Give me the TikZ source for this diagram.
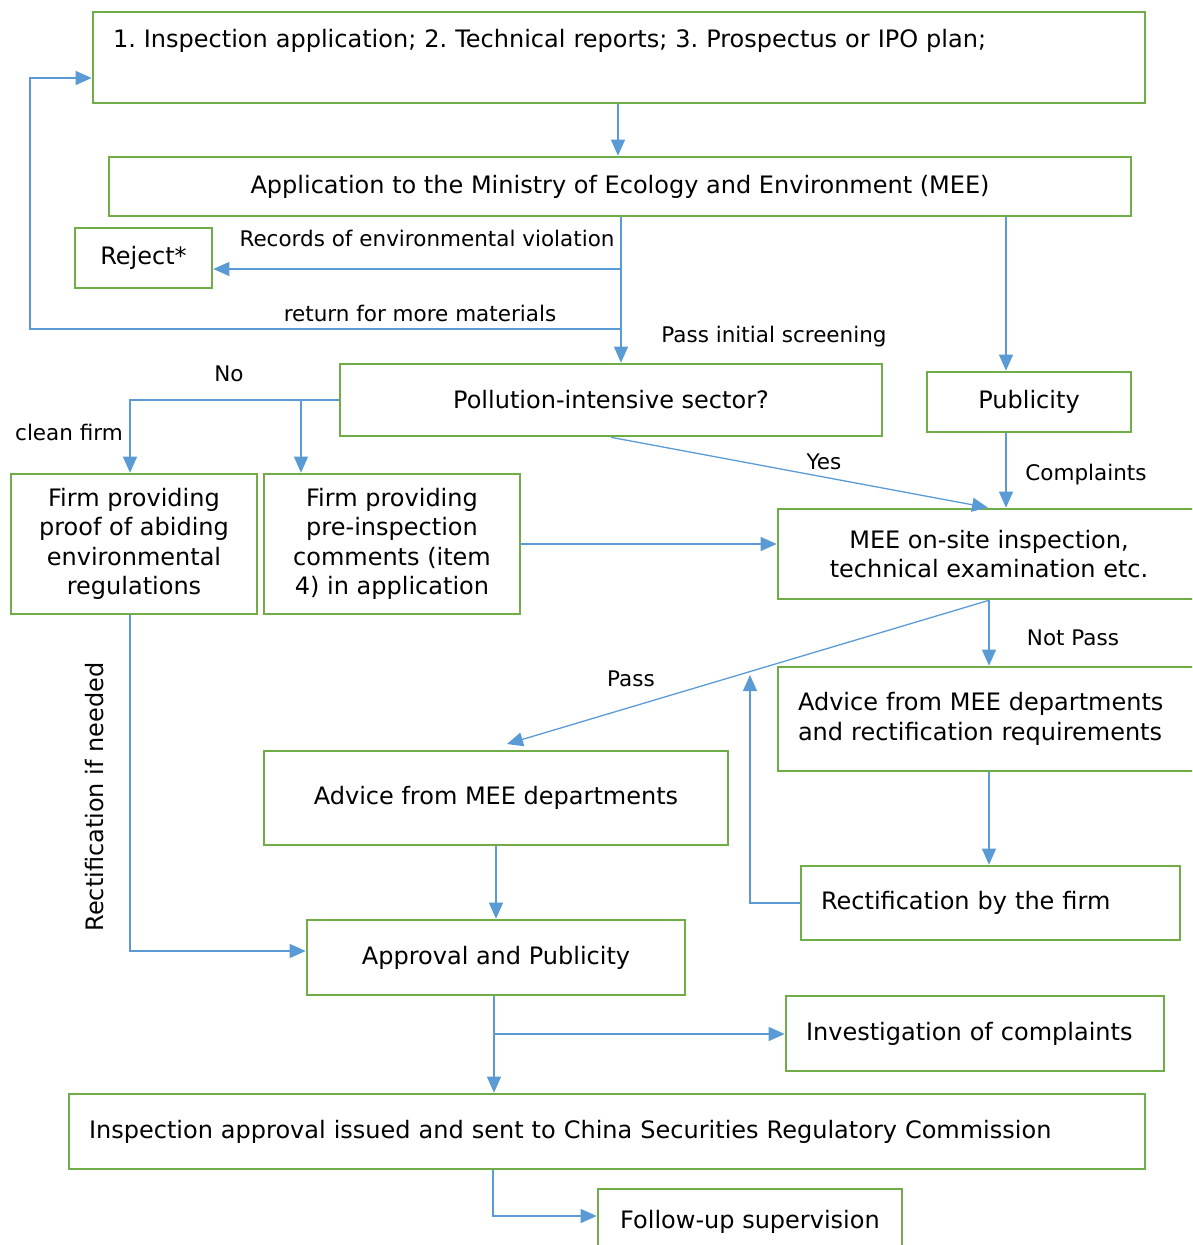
\documentclass[tikz,border=0pt]{standalone}
\usepackage{fontspec}
\setmainfont{DejaVu Sans}
\usepackage{tikz}
\usetikzlibrary{arrows.meta}
\frenchspacing

\definecolor{boxgreen}{HTML}{70AD47}
\definecolor{lineblue}{HTML}{5B9BD5}

\tikzset{
  box/.style={draw=boxgreen, line width=2.6pt, inner sep=0pt, align=center,
    font=\fontsize{24}{29.5}\selectfont},
  lbl/.style={inner sep=0pt, font=\fontsize{21.5}{25}\selectfont},
  arr/.style={draw=lineblue, line width=1.3pt,
    -{Triangle[length=16pt,width=14pt]}},
  ln/.style={draw=lineblue, line width=1.3pt}
}

\begin{document}
\begin{tikzpicture}[x=1pt,y=-1pt]

\clip (0,0) rectangle (1192,1245);

% boxes
\node[box, minimum width=1052, minimum height=91, align=left, text width=1012,
  text height=35, text depth=56, inner xsep=20] (apply) at (619,57.5)
  {1. Inspection application; 2. Technical reports; 3. Prospectus or IPO plan;};
\node[box, minimum width=1022, minimum height=59] (mee) at (620,186.5)
  {Application to the Ministry of Ecology and Environment (MEE)};
\node[box, minimum width=137, minimum height=60] (reject) at (143.5,258) {Reject*};
\node[box, minimum width=542, minimum height=72] (polluting) at (611,400)
  {Pollution-intensive sector?};
\node[box, minimum width=204, minimum height=60] (publicity) at (1029,402) {Publicity};
\node[box, minimum width=246, minimum height=140] (firmproof) at (134,544)
  {Firm providing\\proof of abiding\\environmental\\regulations};
\node[box, minimum width=256, minimum height=140] (firmcomm) at (392,544)
  {Firm providing\\pre-inspection\\comments (item\\4) in application};
\node[box, minimum width=422, minimum height=90] (onsite) at (989,554)
  {MEE on-site inspection,\\technical examination etc.};
\node[box, minimum width=422, minimum height=104, align=left, text width=382,
  inner xsep=20] (advrect) at (989,719)
  {Advice from MEE departments\\and rectification requirements};
\node[box, minimum width=464, minimum height=94] (advice) at (496,798)
  {Advice from MEE departments};
\node[box, minimum width=379, minimum height=74, align=left, text width=339,
  inner xsep=20] (rectfirm) at (990.5,903) {Rectification by the firm};
\node[box, minimum width=378, minimum height=75] (approval) at (496,957.5)
  {Approval and Publicity};
\node[box, minimum width=378, minimum height=75, align=left, text width=338,
  inner xsep=20] (investig) at (975,1033.5) {Investigation of complaints};
\node[box, minimum width=1076, minimum height=75, align=left, text width=1036,
  inner xsep=20] (issued) at (607,1131.5)
  {Inspection approval issued and sent to China Securities Regulatory Commission};
\node[box, minimum width=304, minimum height=66] (followup) at (750,1222)
  {Follow-up supervision};

% branch points
\coordinate (violate) at (621,269);
\coordinate (retmore) at (621,329);
\coordinate (retleft) at (30,329);
\coordinate (retup) at (30,78);
\coordinate (pubx) at (1006,0);
\coordinate (nobranch) at (301,400);
\coordinate (passend) at (507,744);
\coordinate (backup) at (750,675);
\coordinate (split) at (494,1034);

% connectors
\draw[arr] (apply.south -| 618,0) -- (mee.north -| 618,0);
\draw[arr] (mee.south -| violate) -- (polluting.north -| violate);
\draw[arr] (violate) -- (violate -| reject.east);
\draw[arr] (retmore) -- (retleft) -- (retup) -- (retup -| apply.west);
\draw[arr] (mee.south -| pubx) -- (publicity.north -| pubx);
\draw[arr] (polluting.west) -| ([xshift=-4pt]firmproof.north);
\draw[arr] (nobranch) -- (nobranch |- firmcomm.north);
\draw[arr] (polluting.south) -- ([xshift=-1pt]onsite.north);
\draw[arr] (publicity.south -| pubx) -- (onsite.north -| pubx);
\draw[arr] (firmcomm.east) -- (firmcomm.east -| onsite.west);
\draw[arr] (onsite.south) -- (passend);
\draw[arr] (onsite.south) -- (advrect.north);
\draw[arr] (advrect.south) -- (advrect.south |- rectfirm.north);
\draw[arr] (rectfirm.west) -| (backup);
\draw[arr] ([xshift=-4pt]firmproof.south) |- ([yshift=6.5pt]approval.west);
\draw[arr] (advice.south) -- (approval.north);
\draw[arr] (approval.south -| split) -- (split |- issued.north);
\draw[arr] (split) -- (split -| investig.west);
\draw[arr] (issued.south -| 493,0) |- ([yshift=6pt]followup.west);

% labels
\node[lbl] (lviol) at (427,238) {Records of environmental violation};
\node[lbl] (lret) at (420,313) {return for more materials};
\node[lbl] (lpass0) at (774,337) {Pass initial screening};
\node[lbl] (lno) at (229,374) {No};
\node[lbl] (lclean) at (69,432) {clean firm};
\node[lbl] (lyes) at (824,462) {Yes};
\node[lbl] (lcompl) at (1086,475) {Complaints};
\node[lbl] (lnotpass) at (1073,638) {Not Pass};
\node[lbl] (lpass) at (631,679) {Pass};
\node[lbl, rotate=90, font=\fontsize{24}{28}\selectfont] (lrect) at (95,797)
  {Rectification if needed};

\end{tikzpicture}
\end{document}
